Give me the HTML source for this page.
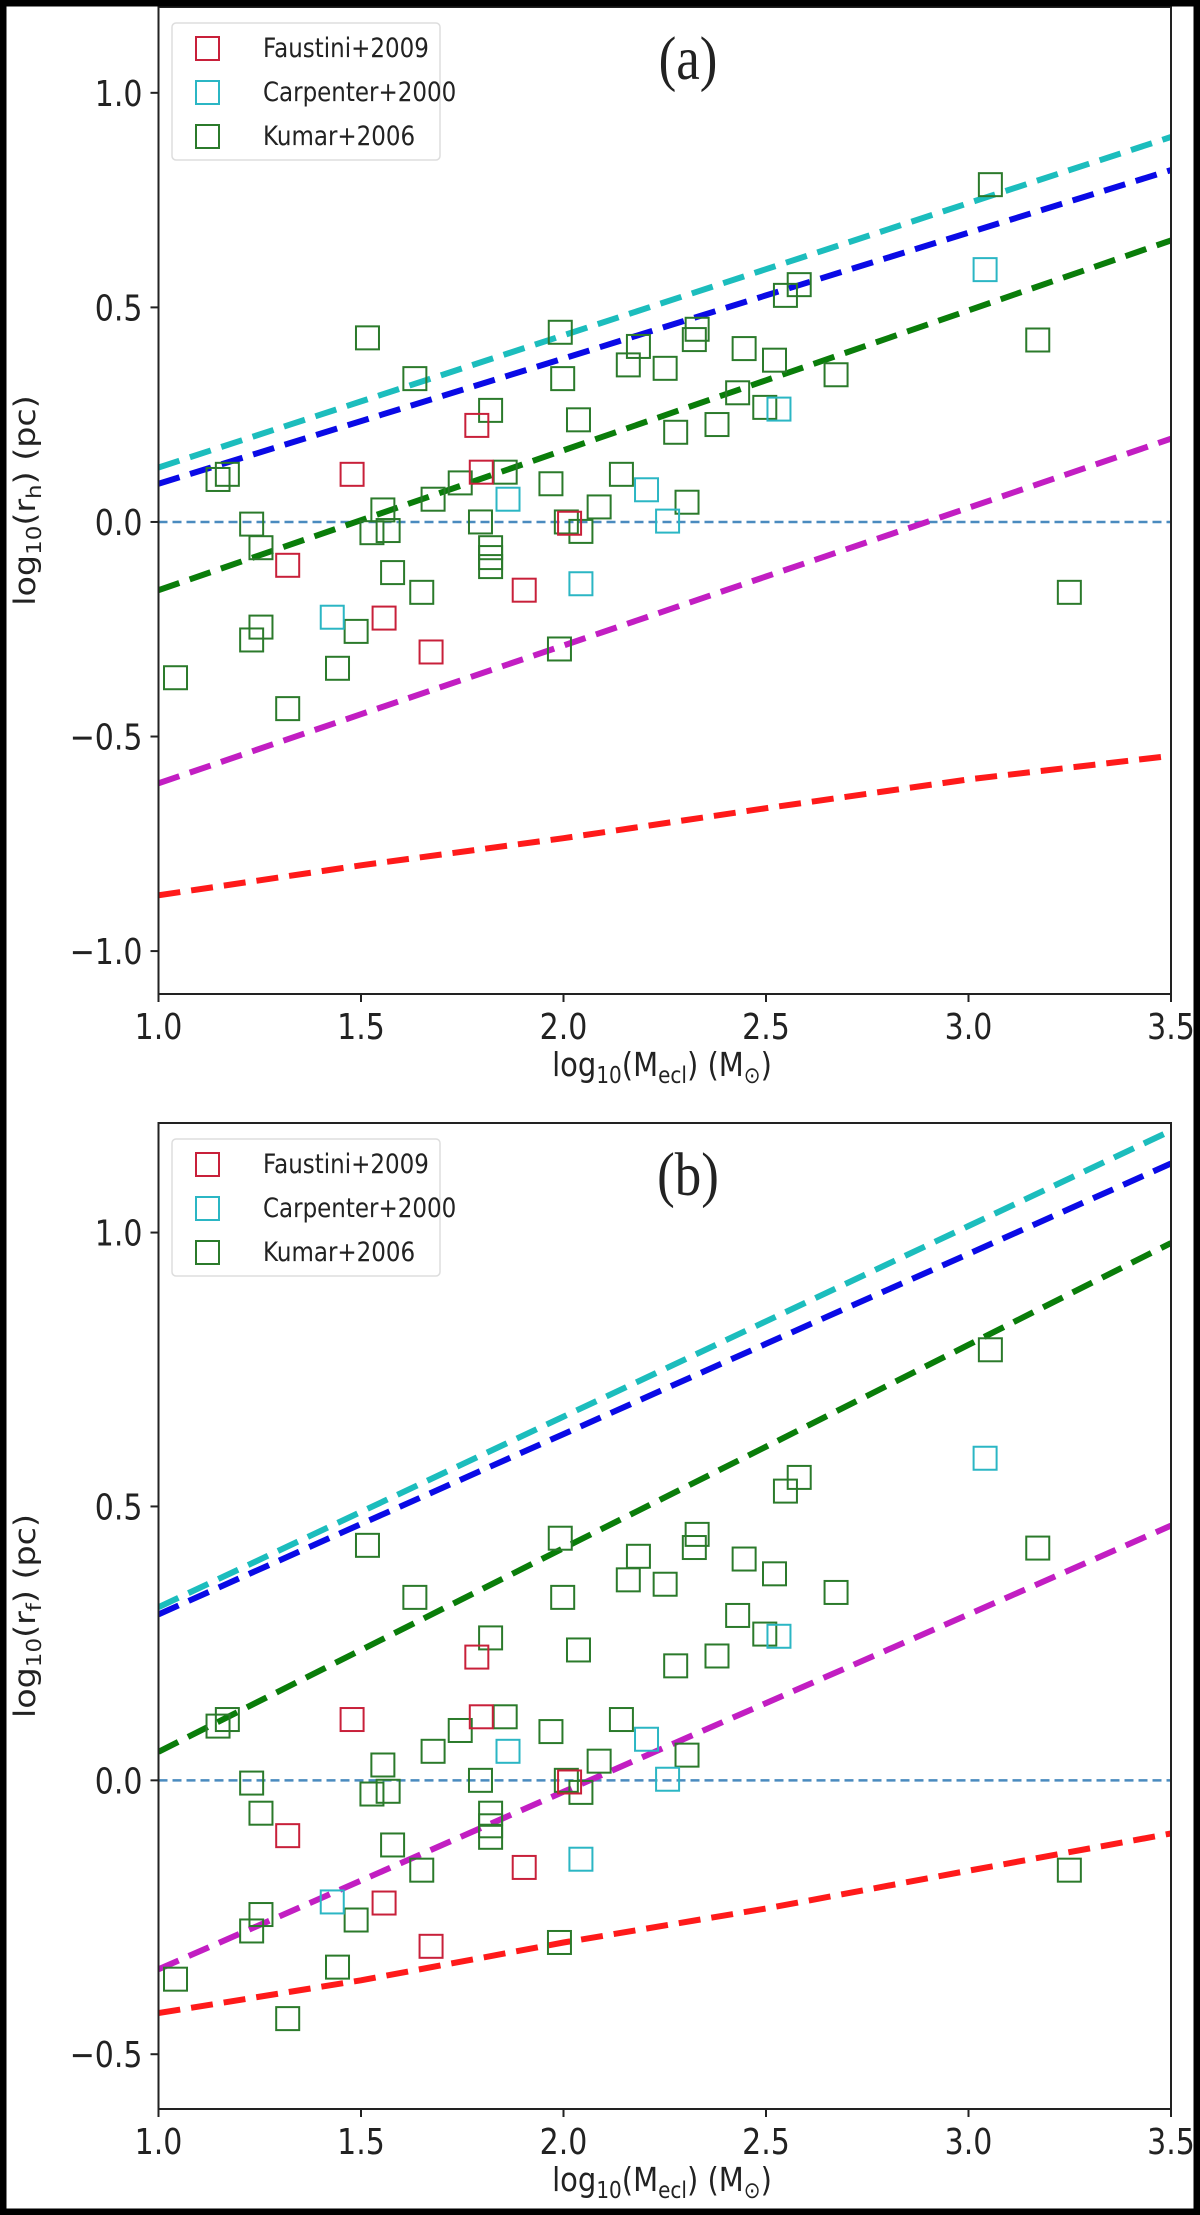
<!DOCTYPE html>
<html><head><meta charset="utf-8"><style>
html,body{margin:0;padding:0;background:#fff;}
svg{display:block;}
text{font-family:"DejaVu Sans","Liberation Sans",sans-serif;fill:#222;}
</style></head><body>
<svg id="fig" width="1200" height="2215" viewBox="0 0 1200 2215" xmlns="http://www.w3.org/2000/svg">
<rect x="0" y="0" width="1200" height="2215" fill="#fff"/>
</svg>
<script>
// ---- data (shared by both panels) ----
const kumarX=[1.042,1.147,1.170,1.23,1.253,1.23,1.253,1.319,1.442,1.488,1.516,1.527,1.554,1.567,1.578,1.633,1.650,1.678,1.745,1.795,1.82,1.82,1.82,1.82,1.856,1.969,1.992,1.998,1.990,2.007,2.037,2.043,2.088,2.143,2.16,2.185,2.251,2.277,2.305,2.323,2.33,2.379,2.43,2.446,2.497,2.521,2.548,2.582,2.673,3.054,3.171,3.249];
const kumarY=[-0.363,0.099,0.111,-0.005,-0.06,-0.275,-0.245,-0.435,-0.341,-0.255,0.429,-0.025,0.028,-0.02,-0.118,0.334,-0.164,0.053,0.091,0.0,0.26,-0.06,-0.083,-0.104,0.116,0.089,0.442,0.334,-0.296,0.0,0.238,-0.022,0.035,0.111,0.366,0.409,0.358,0.209,0.046,0.425,0.449,0.227,0.301,0.404,0.267,0.377,0.528,0.553,0.343,0.786,0.424,-0.164];
const faustiniX=[1.786,1.478,1.797,1.319,1.557,1.673,1.903,2.015];
const faustiniY=[0.225,0.111,0.116,-0.101,-0.224,-0.303,-0.159,-0.003];
const carpenterX=[3.041,2.532,1.863,2.205,2.257,2.043,1.429];
const carpenterY=[0.588,0.263,0.053,0.075,0.002,-0.144,-0.222];
const lineX=[1.0,1.5,2.0,2.5,3.0,3.5];
const aCyan=[0.127,0.281,0.435,0.589,0.743,0.897];
const aBlue=[0.089,0.235,0.381,0.528,0.674,0.820];
const aGreen=[-0.159,0.004,0.167,0.330,0.493,0.656];
const aMagenta=[-0.609,-0.448,-0.288,-0.127,0.033,0.194];
const aRed=[-0.87,-0.80,-0.737,-0.667,-0.60,-0.545];
const bCyan=[0.316,0.490,0.664,0.838,1.012,1.186];
const bBlue=[0.303,0.468,0.632,0.797,0.961,1.126];
const bGreen=[0.052,0.238,0.424,0.609,0.795,0.981];
const bMagenta=[-0.345,-0.183,-0.021,0.141,0.303,0.465];
const bRed=[-0.425,-0.365,-0.296,-0.234,-0.165,-0.097];
const xTicks=[1.0,1.5,2.0,2.5,3.0,3.5];
const xTickLabels=["1.0","1.5","2.0","2.5","3.0","3.5"];
const aYTicks=[1.0,0.5,0.0,-0.5,-1.0];
const aYTickLabels=["1.0","0.5","0.0","\u22120.5","\u22121.0"];
const bYTicks=[1.0,0.5,0.0,-0.5];
const bYTickLabels=["1.0","0.5","0.0","\u22120.5"];

const NS="http://www.w3.org/2000/svg";
const svg=document.getElementById('fig');
function mk(tag,attrs,parent){const e=document.createElementNS(NS,tag);for(const k in attrs)e.setAttribute(k,attrs[k]);(parent||svg).appendChild(e);return e;}

function panel(p){
  const L=158.5,R=1171,T=p.top,B=p.bottom;
  const sx=v=>L+(v-1.0)/(3.5-1.0)*(R-L);
  const sy=v=>T+(p.ymax-v)/(p.ymax-p.ymin)*(B-T);
  const g=mk('g',{});
  
  
  const clipId='clip'+p.id;
  const cp=mk('clipPath',{id:clipId},g);mk('rect',{x:L,y:T,width:R-L,height:B-T},cp);
  const z=mk('line',{x1:L,x2:R,y1:sy(0),y2:sy(0),stroke:'#4a8bbf','stroke-width':2.5,'stroke-dasharray':'9,5'},g);
  
  
  const series=[[p.cyan,'#1cbdbd','cyan-model-line'],[p.blue,'#0a0ae6','blue-model-line'],[p.green,'#0a7d0a','green-model-line'],[p.magenta,'#c21ec2','magenta-model-line'],[p.red,'#ff1a1a','red-model-line']];
  series.forEach(s=>{
    const d=lineX.map((x,i)=>(i?'L':'M')+sx(x).toFixed(1)+','+sy(s[0][i]).toFixed(1)).join(' ');
    const pa=mk('path',{d:d,fill:'none',stroke:s[1],'stroke-width':6,'stroke-dasharray':'22,11','clip-path':'url(#'+clipId+')'},g);
    
    
  });
  const sets=[[kumarX,kumarY,'#2b7a2b','kumar-point'],[faustiniX,faustiniY,'#c8203a','faustini-point'],[carpenterX,carpenterY,'#2bb6c4','carpenter-point']];
  sets.forEach(s=>{
    s[0].forEach((x,i)=>{
      const r=mk('rect',{x:sx(x)-11.5,y:sy(s[1][i])-11.5,width:23,height:23,fill:'none',stroke:s[2],'stroke-width':2},g);
      
      
    });
  });
  const fr=mk('rect',{x:L,y:T,width:R-L,height:B-T,fill:'none',stroke:'#222','stroke-width':2},g);
  
  
  xTicks.forEach((v,i)=>{
    mk('line',{x1:sx(v),x2:sx(v),y1:B,y2:B+8,stroke:'#222','stroke-width':2},g);
    const t=mk('text',{transform:'translate('+sx(v)+','+(B+45)+') scale(1,1.2)','text-anchor':'middle','font-size':30},g);
    t.textContent=xTickLabels[i];
    
    
  });
  p.yt.forEach((v,i)=>{
    mk('line',{x1:L-8,x2:L,y1:sy(v),y2:sy(v),stroke:'#222','stroke-width':2},g);
    const t=mk('text',{transform:'translate('+(L-16)+','+(sy(v)+13)+') scale(1,1.2)','text-anchor':'end','font-size':30},g);
    t.textContent=p.ytl[i];
    
    
  });
  const xl=mk('text',{transform:'translate(662,'+(B+82)+') scale(1,1.15)','text-anchor':'middle','font-size':29},g);
  xl.innerHTML='log<tspan font-size="20" dy="6">10</tspan><tspan dy="-6">(M</tspan><tspan font-size="20" dy="6">ecl</tspan><tspan dy="-6">) (M</tspan><tspan font-size="20" dy="6">\u2299</tspan><tspan dy="-6">)</tspan>';
  
  
  const yl=mk('text',{transform:'translate(35,'+((T+B)/2)+') rotate(-90) scale(1.15,1)','text-anchor':'middle','font-size':29},g);
  yl.innerHTML='log<tspan font-size="20" dy="6">10</tspan><tspan dy="-6">(r</tspan><tspan font-size="20" dy="6">'+p.sub+'</tspan><tspan dy="-6">) (pc)</tspan>';
  
  
  const lg=mk('g',{transform:'translate(0,'+T+')'},g);
  
  
  mk('rect',{x:172,y:16,width:268,height:137,rx:4,fill:'#fff',stroke:'#ddd','stroke-width':1.5},lg);
  const le=[['Faustini+2009','#c8203a'],['Carpenter+2000','#2bb6c4'],['Kumar+2006','#2b7a2b']];
  le.forEach((e,i)=>{
    const cy=41+i*44;
    const m=mk('rect',{x:196,y:cy-11,width:23,height:23,fill:'none',stroke:e[1],'stroke-width':2},lg);
    
    
    const t=mk('text',{transform:'translate(263,'+(cy+9)+') scale(1,1.15)','font-size':23},lg);
    t.textContent=e[0];
    
    
  });
  const pl=mk('text',{transform:'translate(688,'+(T+72)+') scale(1,1.15)','text-anchor':'middle','font-size':53,style:'font-family:"Liberation Serif",serif'},g);
  pl.textContent=p.label;
  
  
}
panel({id:'a',name:'panel-a',top:7,bottom:994,ymin:-1.1,ymax:1.2,yt:aYTicks,ytl:aYTickLabels,sub:'h',label:'(a)',cyan:aCyan,blue:aBlue,green:aGreen,magenta:aMagenta,red:aRed});
panel({id:'b',name:'panel-b',top:1123,bottom:2109,ymin:-0.6,ymax:1.2,yt:bYTicks,ytl:bYTickLabels,sub:'f',label:'(b)',cyan:bCyan,blue:bBlue,green:bGreen,magenta:bMagenta,red:bRed});
const bd=mk('rect',{x:3,y:3,width:1194,height:2209,fill:'none',stroke:'#000','stroke-width':7});


</script>
</body></html>
